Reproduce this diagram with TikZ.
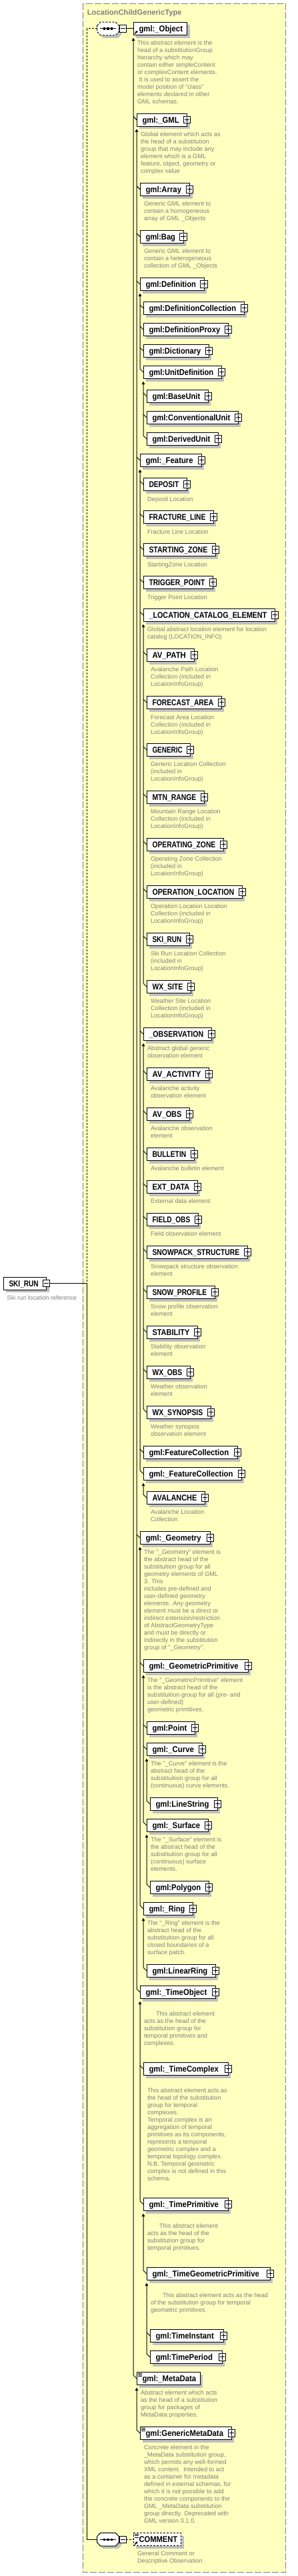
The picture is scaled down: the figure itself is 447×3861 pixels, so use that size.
\documentclass[tikz,border=0pt]{standalone}
\usepackage{fontspec}
\usepackage{graphicx}
\setmainfont{Liberation Sans}
\newfontfamily\namefont[FakeStretch=0.9]{Liberation Sans}
\newfontfamily\descfont{Liberation Sans}
\usetikzlibrary{arrows.meta}
\definecolor{ybg}{RGB}{255,255,192}
\definecolor{bgray}{RGB}{128,128,128}
\definecolor{txtgray}{RGB}{128,128,128}
\definecolor{shadowgray}{RGB}{192,192,192}
\newlength\lblw
\newlength\lbltarget
\newcommand\fitlabel[2]{\setlength\lbltarget{#1}\settowidth\lblw{#2}\ifdim\lblw>\lbltarget\resizebox{\lbltarget}{\height}{#2}\else#2\fi}
\tikzset{
 elbox/.style={rectangle,draw=black,fill=white,line width=1pt,inner sep=0pt,outer sep=0pt,minimum height=19.3pt},
 elname/.style={inner sep=0pt,outer sep=0pt,font=\namefont\bfseries\fontsize{12.6}{14}\selectfont,text=black},
 desc/.style={inner sep=0pt,outer sep=0pt,align=left,anchor=north west,font=\descfont\fontsize{9.2}{11}\selectfont,text=txtgray},
 iconbox/.style={rectangle,draw=black,fill=white,line width=1pt,minimum size=10.3pt,inner sep=0pt,outer sep=0pt},
 plusbox/.style={iconbox,path picture={\draw[line width=1pt] ([xshift=-3.6pt]path picture bounding box.center) -- ([xshift=3.6pt]path picture bounding box.center) ([yshift=-3.6pt]path picture bounding box.center) -- ([yshift=3.6pt]path picture bounding box.center);}},
 minusbox/.style={iconbox,path picture={\draw[line width=1pt] ([xshift=-3.6pt]path picture bounding box.center) -- ([xshift=3.6pt]path picture bounding box.center);}},
 tree/.style={line width=1pt,draw=black},
 treearr/.style={tree,-{Triangle[length=4.5pt,width=4.5pt]}},
 optline/.style={line width=1pt,draw=black,dash pattern=on 3pt off 2pt},
 compnode/.style={rectangle,minimum width=32.6pt,minimum height=19.7pt,inner sep=0pt,outer sep=0pt},
 refarrow/.style={line width=1.3pt,-{Triangle[length=3pt,width=3.5pt]}},
}
% element box: name, x, ytop, width, label, extra style, room for text
\newcommand\elbase[7]{%
  \fill[shadowgray] ({#2+4},{#3+4}) rectangle ({#2+#4+4},{#3+23.3});
  \node[elbox,#6,minimum width=#4pt,anchor=north west] (#1) at (#2,#3) {};
  \node[elname,anchor=base west] (#1-t) at ({#2+8.5},{#3+14.3}) {\fitlabel{\dimexpr#4pt-#7pt\relax}{#5}};}
\newcommand\elp[5]{\elbase{#1}{#2}{#3}{#4}{#5}{}{20.5}\node[plusbox] (#1-p) at (#1.east) {};}
\newcommand\eln[5]{\elbase{#1}{#2}{#3}{#4}{#5}{}{14}}
\newcommand\sub[1]{\draw[tree] (#1.west) -- ++(-5,-5);}
\newcommand\lastsub[2]{\draw[treearr] (#2.west) -- ++(-5,-5) -- ([yshift=-4pt]#1.south west);}
\newcommand\desc[4]{\node[desc] (#1) at (#2,{#3-4.2}) {\strut#4};}
\newcommand\docicon[1]{\foreach \k in {0,1,2}{\draw[line width=0.8pt] ([xshift=2pt,yshift={-1.7pt-2.35pt*\k}]#1.north west) -- ++(6,0);}}
\newcommand\octo[2]{\path[#2] ([shift={(-16.3,-4.6)}]#1.center) -- ([shift={(-11.3,-9.85)}]#1.center) -- ([shift={(11.3,-9.85)}]#1.center) -- ([shift={(16.3,-4.6)}]#1.center) -- ([shift={(16.3,4.6)}]#1.center) -- ([shift={(11.3,9.85)}]#1.center) -- ([shift={(-11.3,9.85)}]#1.center) -- ([shift={(-16.3,4.6)}]#1.center) -- cycle;}
\newcommand\seqsym[1]{\draw[line width=1pt] ([xshift=-12pt]#1.center) -- ([xshift=12pt]#1.center);
  \foreach \dx in {-5.5,0,5.5}{\fill ([xshift=\dx pt]#1.center) +(-1.6,-1.6) rectangle +(1.6,1.6);}}
\begin{document}
\begin{tikzpicture}[x=1pt,y=-1pt]
\useasboundingbox (0,0) rectangle (447,3861);
\fill[white] (0,0) rectangle (447,3861);
% container
\draw[draw=bgray,fill=ybg,line width=1pt,dash pattern=on 10pt off 3pt] (124,5.3) rectangle (428.3,3855.3);
\node[anchor=base west,inner sep=0pt,font=\bfseries\fontsize{11.2}{13}\selectfont,text=bgray] (title) at (130.7,22.7) {LocationChildGenericType};

% compositors
\node[compnode] (c1s) at (166,46.95) {};
\octo{c1s}{fill=shadowgray}
\node[compnode] (c1) at (162,42.95) {};
\octo{c1}{draw=black,fill=white,line width=1pt,dash pattern=on 3pt off 2pt}
\seqsym{c1}
\node[minusbox] (c1m) at (184.3,42.95) {};
\node[compnode] (c2s) at (166,3810.15) {};
\octo{c2s}{fill=shadowgray}
\node[compnode] (c2) at (162,3806.15) {};
\octo{c2}{draw=black,fill=white,line width=1pt}
\seqsym{c2}
\node[minusbox] (c2m) at (184.3,3806.15) {};

% left element
\elbase{skil}{5}{1914}{64.7}{SKI\_RUN}{}{20.5}
\node[minusbox] (skil-m) at (skil.east) {};
\desc{d-skil}{10.7}{1945.3}{Ski run location reference}

\coordinate (L1) at (130.7,42.95);
\coordinate (L2) at (130.7,1923.65);
\coordinate (L3) at (130.7,3806.15);
\draw[optline] (c1.west) -- (L1) -- (L2);
\draw[tree] (L2) -- (L3) -- (c2.west);
\draw[tree] (skil-m.east) -- (L2);

% elements
\eln{obj}{200}{33.3}{80.7}{gml:\_Object}
\draw[refarrow] ([xshift=2pt,yshift=2pt]obj.south west) -- ++(4.5,-4.5);
\draw[tree] (c1m.east) -- (obj.west);
\elp{gml}{205}{170}{75.7}{gml:\_GML}
\elp{array}{210}{274.3}{74.5}{gml:Array}
\elp{bag}{210}{345.3}{65}{gml:Bag}
\elp{defn}{210}{416.3}{96}{gml:Definition}
\elp{defcoll}{215}{452.3}{151.3}{gml:DefinitionCollection}
\elp{defproxy}{215}{484.3}{127.3}{gml:DefinitionProxy}
\elp{dict}{215}{516.3}{98.3}{gml:Dictionary}
\elp{unitdef}{215}{548.3}{117.3}{gml:UnitDefinition}
\elp{baseunit}{220}{584.3}{92.3}{gml:BaseUnit}
\elp{convunit}{220}{616.3}{137.3}{gml:ConventionalUnit}
\elp{derunit}{220}{648.3}{107.3}{gml:DerivedUnit}
\elp{feature}{210}{680.3}{92.3}{gml:\_Feature}
\elp{deposit}{215}{716.3}{65.3}{DEPOSIT}
\elp{fracture}{215}{765.3}{105.3}{FRACTURE\_LINE}
\elp{startz}{215}{814.3}{108.3}{STARTING\_ZONE}
\elp{trigger}{215}{863.3}{104.3}{TRIGGER\_POINT}
\elp{loccat}{215}{912.3}{197.3}{\_LOCATION\_CATALOG\_ELEMENT}
\elp{avpath}{220}{972.3}{71.3}{AV\_PATH}
\elp{forecast}{220}{1043.3}{112.3}{FORECAST\_AREA}
\elp{generic}{220}{1114.3}{65.7}{GENERIC}
\elp{mtn}{220}{1185.3}{86.3}{MTN\_RANGE}
\elp{opzone}{220}{1256.3}{115.3}{OPERATING\_ZONE}
\elp{oploc}{220}{1327.3}{143.3}{OPERATION\_LOCATION}
\elp{skirun}{220}{1398.3}{64.3}{SKI\_RUN}
\elp{wxsite}{220}{1469.3}{66.3}{WX\_SITE}
\elp{obs}{215}{1540.3}{102.3}{\_OBSERVATION}
\elp{avact}{220}{1600.3}{93.3}{AV\_ACTIVITY}
\elp{avobs}{220}{1660.3}{64.3}{AV\_OBS}
\elp{bulletin}{220}{1720.3}{71.3}{BULLETIN}
\elp{extdata}{220}{1769.3}{76.3}{EXT\_DATA}
\elp{fieldobs}{220}{1818.3}{77.3}{FIELD\_OBS}
\elp{snowpack}{220}{1867.3}{151.3}{SNOWPACK\_STRUCTURE}
\elp{snowprof}{220}{1927.3}{102.3}{SNOW\_PROFILE}
\elp{stability}{220}{1987.3}{76.3}{STABILITY}
\elp{wxobs}{220}{2047.3}{65.3}{WX\_OBS}
\elp{wxsyn}{220}{2107.3}{96.3}{WX\_SYNOPSIS}
\elp{fcoll}{215}{2167.3}{141.3}{gml:FeatureCollection}
\elp{afcoll}{215}{2199.3}{147.3}{gml:\_FeatureCollection}
\elp{avalanche}{220}{2235.3}{87.3}{AVALANCHE}
\elp{geom}{210}{2295.3}{105.3}{gml:\_Geometry}
\elp{geomprim}{215}{2487.3}{157.3}{gml:\_GeometricPrimitive}
\elp{point}{220}{2580.3}{72.3}{gml:Point}
\elp{curve}{220}{2612.3}{83.3}{gml:\_Curve}
\elp{linestr}{225}{2694.3}{101.3}{gml:LineString}
\elp{surface}{220}{2726.3}{92.3}{gml:\_Surface}
\elp{polygon}{225}{2819.3}{88.3}{gml:Polygon}
\elp{ring}{215}{2851.3}{74.3}{gml:\_Ring}
\elp{linring}{220}{2944.3}{103.3}{gml:LinearRing}
\elp{timeobj}{210}{2976.3}{113.3}{gml:\_TimeObject}
\elp{timecplx}{215}{3091.3}{127.3}{gml:\_TimeComplex}
\elp{timeprim}{215}{3294.3}{127.3}{gml:\_TimePrimitive}
\elp{timegeom}{220}{3398.3}{185.3}{gml:\_TimeGeometricPrimitive}
\elp{tinstant}{225}{3491.3}{110.3}{gml:TimeInstant}
\elp{tperiod}{225}{3523.3}{108.3}{gml:TimePeriod}
\eln{meta}{205}{3555.3}{95.3}{gml:\_MetaData}
\docicon{meta}
\elp{genmeta}{210}{3637.3}{137.3}{gml:GenericMetaData}
\docicon{genmeta}
\elbase{comment}{200}{3796.5}{71.7}{COMMENT}{dash pattern=on 3pt off 2pt}{14}
\docicon{comment}
\draw[refarrow] ([xshift=2pt,yshift=2pt]comment.south west) -- ++(4.5,-4.5);
\draw[optline] (c2m.east) -- (comment.west);

% substitution tree
\sub{gml} \lastsub{obj}{meta}
\sub{array} \sub{bag} \sub{defn} \sub{feature} \sub{geom} \lastsub{gml}{timeobj}
\sub{defcoll} \sub{defproxy} \sub{dict} \lastsub{defn}{unitdef}
\sub{baseunit} \sub{convunit} \lastsub{unitdef}{derunit}
\sub{deposit} \sub{fracture} \sub{startz} \sub{trigger} \sub{loccat} \sub{obs} \sub{fcoll} \lastsub{feature}{afcoll}
\sub{avpath} \sub{forecast} \sub{generic} \sub{mtn} \sub{opzone} \sub{oploc} \sub{skirun} \lastsub{loccat}{wxsite}
\sub{avact} \sub{avobs} \sub{bulletin} \sub{extdata} \sub{fieldobs} \sub{snowpack} \sub{snowprof} \sub{stability} \sub{wxobs} \lastsub{obs}{wxsyn}
\lastsub{afcoll}{avalanche}
\sub{geomprim} \lastsub{geom}{ring}
\sub{point} \sub{curve} \lastsub{geomprim}{surface}
\lastsub{curve}{linestr}
\lastsub{surface}{polygon}
\lastsub{ring}{linring}
\sub{timecplx} \lastsub{timeobj}{timeprim}
\lastsub{timeprim}{timegeom}
\sub{tinstant} \lastsub{timegeom}{tperiod}
\lastsub{meta}{genmeta}

% descriptions
\desc{d-obj}{206}{64.3}{This abstract element is the\\head of a substitutionGroup\\hierarchy which may\\contain either simpleContent\\or complexContent elements.\\\hspace*{2.5pt}It is used to assert the\\model position of "class"\\elements declared in other\\GML schemas.}
\desc{d-gml}{211}{201.3}{Global element which acts as\\the head of a substitution\\group that may include any\\element which is a GML\\feature, object, geometry or\\complex value}
\desc{d-array}{216}{305.3}{Generic GML element to\\contain a homogeneous\\array of GML \_Objects}
\desc{d-bag}{216}{376.3}{Generic GML element to\\contain a heterogeneous\\collection of GML \_Objects}
\desc{d-deposit}{221}{747.7}{Deposit Location}
\desc{d-fracture}{221}{796.7}{Fracture Line Location}
\desc{d-startz}{221}{845.7}{StartingZone Location}
\desc{d-trigger}{221}{894.7}{Trigger Point Location}
\desc{d-loccat}{221}{943.3}{Global abstract location element for location\\catalog (LOCATION\_INFO)}
\desc{d-avpath}{226}{1003.3}{Avalanche Path Location\\Collection (included in\\LocationInfoGroup)}
\desc{d-forecast}{226}{1074.7}{Forecast Area Location\\Collection (included in\\LocationInfoGroup)}
\desc{d-generic}{226}{1145.3}{Generic Location Collection\\(included in\\LocationInfoGroup)}
\desc{d-mtn}{226}{1216.3}{Mountain Range Location\\Collection (included in\\LocationInfoGroup)}
\desc{d-opzone}{226}{1287.3}{Operating Zone Collection\\(included in\\LocationInfoGroup)}
\desc{d-oploc}{226}{1358.3}{Operation Location Location\\Collection (included in\\LocationInfoGroup)}
\desc{d-skirun}{226}{1429.3}{Ski Run Location Collection\\(included in\\LocationInfoGroup)}
\desc{d-wxsite}{226}{1500.3}{Weather Site Location\\Collection (included in\\LocationInfoGroup)}
\desc{d-obs}{221}{1571.3}{Abstract global generic\\observation element}
\desc{d-avact}{226}{1631.3}{Avalanche activity\\observation element}
\desc{d-avobs}{226}{1691.3}{Avalanche observation\\element}
\desc{d-bulletin}{226}{1751.3}{Avalanche bulletin element}
\desc{d-extdata}{226}{1800.3}{External data element}
\desc{d-fieldobs}{226}{1849.3}{Field observation element}
\desc{d-snowpack}{226}{1898.3}{Snowpack structure observation\\element}
\desc{d-snowprof}{226}{1958.3}{Snow profile observation\\element}
\desc{d-stability}{226}{2018.3}{Stability observation\\element}
\desc{d-wxobs}{226}{2078.3}{Weather observation\\element}
\desc{d-wxsyn}{226}{2138.3}{Weather synopsis\\observation element}
\desc{d-avalanche}{226}{2266.3}{Avalanche Location\\Collection}
\desc{d-geom}{216}{2326.3}{The "\_Geometry" element is\\the abstract head of the\\substituition group for all\\geometry elements of GML\\3. This\\includes pre-defined and\\user-defined geometry\\elements. Any geometry\\element must be a direct or\\indirect extension/restriction\\of AbstractGeometryType\\and must be directly or\\indirectly in the substitution\\group of "\_Geometry".}
\desc{d-geomprim}{221}{2518.3}{The "\_GeometricPrimitive" element\\is the abstract head of the\\substituition group for all (pre- and\\user-defined)\\geometric primitives.}
\desc{d-curve}{226}{2643.3}{The "\_Curve" element is the\\abstract head of the\\substituition group for all\\(continuous) curve elements.}
\desc{d-surface}{226}{2757.3}{The "\_Surface" element is\\the abstract head of the\\substituition group for all\\(continuous) surface\\elements.}
\desc{d-ring}{221}{2882.3}{The "\_Ring" element is the\\abstract head of the\\substituition group for all\\closed boundaries of a\\surface patch.}
\desc{d-timeobj}{216}{3018.3}{\hspace*{18pt}This abstract element\\acts as the head of the\\substitution group for\\temporal primitives and\\complexes.}
\desc{d-timecplx}{221}{3133.3}{This abstract element acts as\\the head of the substitution\\group for temporal\\complexes.\\Temporal complex is an\\aggregation of temporal\\primitives as its components,\\represents a temporal\\geometric complex and a\\temporal topology complex.\\N.B. Temporal geometric\\complex is not defined in this\\schema.}
\desc{d-timeprim}{221}{3336.3}{\hspace*{18pt}This abstract element\\acts as the head of the\\substitution group for\\temporal primitives.}
\desc{d-timegeom}{226}{3440.3}{\hspace*{18pt}This abstract element acts as the head\\of the substitution group for temporal\\geometric primitives.}
\desc{d-meta}{211}{3586.3}{Abstract element which acts\\as the head of a substitution\\group for packages of\\MetaData properties.}
\desc{d-genmeta}{216}{3668.3}{Concrete element in the\\\_MetaData substitution group,\\which permits any well-formed\\XML content.\ \ Intended to act\\as a container for metadata\\defined in external schemas, for\\which it is not possible to add\\the concrete components to the\\GML \_MetaData substitution\\group directly. Deprecated with\\GML version 3.1.0.}
\desc{d-comment}{206}{3827.3}{General Comment or\\Descriptive Observation}
\end{tikzpicture}
\end{document}
